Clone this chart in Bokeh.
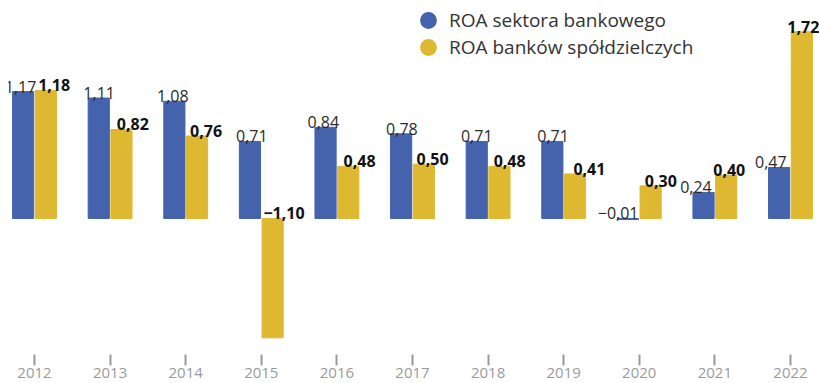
from bokeh.plotting import figure
from bokeh.models import ColumnDataSource, Legend, LegendItem, FixedTicker, Range1d
from bokeh.transform import dodge
from bokeh.embed import file_html
from bokeh.resources import INLINE
from bokeh.core.properties import value

# ---- data ----
years = [2012, 2013, 2014, 2015, 2016, 2017, 2018, 2019, 2020, 2021, 2022]
roa_sector = [1.17, 1.11, 1.08, 0.71, 0.84, 0.78, 0.71, 0.71, -0.01, 0.24, 0.47]
roa_coop = [1.18, 0.82, 0.76, -1.10, 0.48, 0.50, 0.48, 0.41, 0.30, 0.40, 1.72]
series_names = ["ROA sektora bankowego", "ROA banków spółdzielczych"]

# ---- style ----
BLUE = "#4562AC"
YELLOW = "#DFB832"
FONT = "Open Sans"
# horizontal nudges of the value labels (in category units), as in the original
SECTOR_LABEL_DX = [-0.185, -0.145, -0.17, -0.125, -0.18, -0.14, -0.15, -0.14, -0.28, -0.25, -0.26]
COOP_LABEL_DX = [0.26, 0.30, 0.27, 0.30, 0.30, 0.265, 0.285, 0.34, 0.285, 0.19, 0.17]


def fmt(v):
    s = f"{abs(v):.2f}".replace(".", ",")
    return ("\u2212" + s) if v < 0 else s


src = ColumnDataSource(dict(
    year=years,
    sector=roa_sector,
    coop=roa_coop,
    sector_lx=[y + d for y, d in zip(years, SECTOR_LABEL_DX)],
    coop_lx=[y + d for y, d in zip(years, COOP_LABEL_DX)],
    sector_ly=[max(v, 0) for v in roa_sector],
    coop_ly=[max(v, 0) for v in roa_coop],
    sector_txt=[fmt(v) for v in roa_sector],
    coop_txt=[fmt(v) for v in roa_coop],
))

TOP = 0
FRAME_H = 354
p = figure(frame_width=811, frame_height=FRAME_H,
           x_range=Range1d(2011.656, 2022.384), y_range=Range1d(-1.254, 2.009),
           output_backend="svg", toolbar_location=None,
           min_border_left=8, min_border_top=TOP, min_border_right=0, min_border_bottom=0,
           outline_line_color=None, y_axis_location=None)
p.xgrid.grid_line_color = None
p.ygrid.grid_line_color = None

ax = p.xaxis[0]
ax.ticker = FixedTicker(ticks=years)
ax.major_label_overrides = {y: str(y) for y in years}
ax.axis_line_color = None
ax.major_tick_line_color = "#9a9a9a"
ax.major_tick_line_width = 2
ax.major_tick_out = 11
ax.major_tick_in = 0
ax.minor_tick_line_color = None
ax.major_label_text_font = FONT
ax.major_label_text_font_size = "15px"
ax.major_label_text_color = "#9a9a9a"
ax.major_label_standoff = 2

p.vbar(x=dodge("year", -0.15, range=p.x_range), top="sector", width=0.28,
       source=src, fill_color=BLUE, line_color=BLUE, line_width=1)
p.vbar(x=dodge("year", 0.15, range=p.x_range), top="coop", width=0.28,
       source=src, fill_color=YELLOW, line_color=YELLOW, line_width=1)

p.text(x="sector_lx", y="sector_ly", text="sector_txt",
       source=src, text_align="center", text_baseline="alphabetic", y_offset=-5,
       text_font=value(FONT), text_font_size="16px", text_color="#2a2a2a")
p.text(x="coop_lx", y="coop_ly", text="coop_txt",
       source=src, text_align="center", text_baseline="alphabetic", y_offset=-5,
       text_font=value(FONT), text_font_size="16px", text_font_style="bold",
       text_color="#111111")

nan = float("nan")
r1 = p.scatter(x=[nan], y=[nan], marker="circle", fill_color=BLUE, line_color=None)
r2 = p.scatter(x=[nan], y=[nan], marker="circle", fill_color=YELLOW, line_color=None)


def make_legend(name, renderer, loc):
    return Legend(items=[LegendItem(label=name, renderers=[renderer])],
                  location=loc, glyph_width=42, glyph_height=42,
                  label_standoff=-2, padding=0, margin=0,
                  border_line_color=None, background_fill_alpha=0,
                  label_text_font=FONT, label_text_font_size="19px",
                  label_text_color="#333333")


# legend rows: circle centres at ~ (428, 20) and (428, 47) page px
p.add_layout(make_legend(series_names[0], r1, (399, FRAME_H + TOP - 41)))
p.add_layout(make_legend(series_names[1], r2, (399, FRAME_H + TOP - 68)))

open("out.html", "w").write(file_html(p, INLINE))
